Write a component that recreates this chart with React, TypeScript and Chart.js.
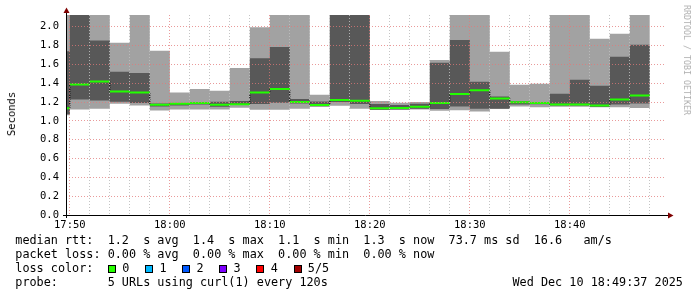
import React, { useEffect, useRef } from "react";
import { Chart, registerables } from "chart.js";

Chart.register(...registerables);

// ---------------- data ----------------
const sampleTimes = [
  "17:49:37", "17:50", "17:52", "17:54", "17:56", "17:58", "18:00", "18:02", "18:04", "18:06",
  "18:08", "18:10", "18:12", "18:14", "18:16", "18:18", "18:20", "18:22", "18:24", "18:26",
  "18:28", "18:30", "18:32", "18:34", "18:36", "18:38", "18:40", "18:42", "18:44", "18:46",
];
const sampleEnd = "18:48";
const axisStart = "17:49:37";
const axisEnd = "18:49:37";
const xTickLabels = ["17:50", "18:00", "18:10", "18:20", "18:30", "18:40"];
const yTickLabels = ["0.0", "0.2", "0.4", "0.6", "0.8", "1.0", "1.2", "1.4", "1.6", "1.8", "2.0"];
const yAxisMax = 2.125;

// outer smoke band (seconds); 2.2 = beyond the top of the graph
const smokeMax = [
  2.2, 2.2, 2.2, 1.83, 2.2, 1.745, 1.301, 1.34, 1.32, 1.561,
  1.995, 2.2, 2.2, 1.278, 2.2, 2.2, 1.211, 1.193, 1.201, 1.648,
  2.2, 2.2, 1.735, 1.383, 1.394, 2.2, 2.2, 1.872, 1.926, 2.2,
];
const smokeMin = [
  1.06, 1.12, 1.128, 1.181, 1.163, 1.11, 1.12, 1.12, 1.12, 1.14,
  1.117, 1.117, 1.128, 1.148, 1.16, 1.128, 1.115, 1.117, 1.12, 1.107,
  1.113, 1.099, 1.128, 1.152, 1.145, 1.149, 1.149, 1.145, 1.145, 1.138,
];
// inner smoke band
const smokeUpper = [
  1.74, 2.2, 1.855, 1.521, 1.51, 1.184, 1.191, 1.199, 1.202, 1.21,
  1.665, 1.786, 1.233, 1.207, 2.2, 2.2, 1.179, 1.168, 1.181, 1.617,
  1.86, 1.415, 1.26, 1.206, 1.199, 1.287, 1.436, 1.372, 1.681, 1.809,
];
const smokeLower = [
  1.07, 1.227, 1.216, 1.202, 1.191, 1.152, 1.163, 1.174, 1.15, 1.172,
  1.18, 1.192, 1.185, 1.16, 1.2, 1.18, 1.117, 1.12, 1.128, 1.127,
  1.152, 1.128, 1.128, 1.174, 1.177, 1.163, 1.163, 1.149, 1.174, 1.184,
];
const medianRtt = [
  1.135, 1.387, 1.418, 1.312, 1.301, 1.172, 1.181, 1.191, 1.172, 1.177,
  1.301, 1.34, 1.201, 1.169, 1.222, 1.214, 1.135, 1.136, 1.151, 1.19,
  1.286, 1.326, 1.239, 1.199, 1.191, 1.174, 1.174, 1.163, 1.227, 1.27,
];

const lossLabels = ["0", "1", "2", "3", "4", "5/5"];
const lossColors = ["#26ff00", "#00b8ff", "#0059ff", "#7e00ff", "#ff0000", "#a10000"];

const legendLine1 = "median rtt:  1.2  s avg  1.4  s max  1.1  s min  1.3  s now  73.7 ms sd  16.6   am/s";
const legendLine2 = "packet loss: 0.00 % avg  0.00 % max  0.00 % min  0.00 % now";
const legendLine3 = "loss color:";
const legendLine4 = "probe:       5 URLs using curl(1) every 120s";
const stampText = "Wed Dec 10 18:49:37 2025";
const yTitle = "Seconds";
const watermark = "RRDTOOL / TOBI OETIKER";

// ---------------- helpers ----------------
const toMin = (s: string) => {
  const p = s.split(":").map(Number);
  return p[0] * 60 + p[1] + (p[2] || 0) / 60;
};
const fmtMin = (v: number) => {
  const h = Math.floor(v / 60 + 1e-9);
  const m = Math.round(v - h * 60);
  return String(h).padStart(2, "0") + ":" + String(m).padStart(2, "0");
};
const starts = sampleTimes.map(toMin);
const ends = starts.slice(1).concat([toMin(sampleEnd)]);
const stepPts = (vals: number[]) =>
  vals.flatMap((v, i) => [{ x: starts[i], y: v }, { x: ends[i], y: v }]);
const segPts = (vals: number[]) =>
  vals.flatMap((v, i) => [
    { x: starts[i], y: v },
    { x: ends[i], y: v },
    { x: ends[i], y: null as any },
  ]);

const LIGHT = "#a2a2a2";
const DARK = "#585858";
const GREEN = "#22ff00";
const MAJOR = "rgba(225,120,120,0.75)";
const MINOR = "rgba(190,190,190,0.9)";
const MONO = "'DejaVu Sans Mono', monospace";

const axesPlugin = {
  id: "rrdAxes",
  afterDraw(chart: any) {
    const { ctx, chartArea } = chart;
    const { left, right, top } = chartArea;
    const y0 = chart.scales.y.getPixelForValue(0);
    ctx.save();
    ctx.strokeStyle = "#000";
    ctx.lineWidth = 1;
    ctx.setLineDash([]);
    ctx.beginPath();
    ctx.moveTo(left - 3, y0 + 0.5);
    ctx.lineTo(right + 2, y0 + 0.5);
    ctx.moveTo(left + 0.5, y0 + 3);
    ctx.lineTo(left + 0.5, top - 3);
    ctx.stroke();
    ctx.fillStyle = "#7f0000";
    ctx.beginPath();
    ctx.moveTo(right + 2, y0 - 2.5);
    ctx.lineTo(right + 7.5, y0 + 0.5);
    ctx.lineTo(right + 2, y0 + 3.5);
    ctx.closePath();
    ctx.fill();
    ctx.beginPath();
    ctx.moveTo(left - 2.5, top - 2);
    ctx.lineTo(left + 0.5, top - 7.5);
    ctx.lineTo(left + 3.5, top - 2);
    ctx.closePath();
    ctx.fill();
    ctx.restore();
  },
};

const bandLine = (data: any[], fillNext: boolean, color: string, order: number) => ({
  data,
  fill: fillNext ? "+1" : false,
  backgroundColor: color,
  borderColor: "transparent",
  borderWidth: 0,
  pointRadius: 0,
  tension: 0,
  order,
});

export default function App() {
  const ref = useRef<HTMLCanvasElement>(null);

  useEffect(() => {
    const chart = new Chart(ref.current as HTMLCanvasElement, {
      type: "line",
      data: {
        datasets: [
          bandLine(stepPts(smokeMax), true, LIGHT, 5),
          bandLine(stepPts(smokeMin), false, LIGHT, 5),
          bandLine(stepPts(smokeUpper), true, DARK, 4),
          bandLine(stepPts(smokeLower), false, DARK, 4),
          {
            data: stepPts(medianRtt),
            fill: false,
            borderColor: "#000",
            borderWidth: 1,
            borderDash: [1, 1],
            pointRadius: 0,
            order: 2,
          },
          {
            data: segPts(medianRtt),
            fill: false,
            borderColor: GREEN,
            borderWidth: 2,
            borderCapStyle: "butt",
            spanGaps: false,
            pointRadius: 0,
            order: 1,
          },
        ] as any,
      },
      options: {
        responsive: false,
        animation: false,
        events: [],
        layout: { padding: { top: 15, right: 31, left: 0, bottom: 0 } },
        plugins: {
          legend: { display: false },
          tooltip: { enabled: false },
          filler: { propagate: false },
        },
        scales: {
          x: {
            type: "linear",
            min: toMin(axisStart),
            max: toMin(axisEnd),
            afterFit: (s: any) => {
              s.height = 82;
            },
            afterBuildTicks: (s: any) => {
              const t = [];
              for (let v = Math.ceil(s.min / 2) * 2; v <= s.max + 1e-9; v += 2) t.push({ value: v });
              s.ticks = t;
            },
            grid: {
              z: 1,
              drawTicks: false,
              lineWidth: 1,
              color: (c: any) => (xTickLabels.includes(fmtMin(c.tick.value)) ? MAJOR : MINOR),
            },
            border: { display: false, dash: [1, 2] },
            ticks: {
              autoSkip: false,
              maxRotation: 0,
              padding: 4,
              color: "#000",
              font: { family: MONO, size: 10.5 },
              callback: (v: any) => {
                const s = fmtMin(Number(v));
                return xTickLabels.includes(s) ? s : "";
              },
            },
          },
          y: {
            type: "linear",
            min: 0,
            max: yAxisMax,
            afterFit: (s: any) => {
              s.width = 66;
            },
            afterBuildTicks: (s: any) => {
              const t = [];
              for (let i = 0; i / 10 <= s.max + 1e-9; i++) t.push({ value: i / 10 });
              s.ticks = t;
            },
            grid: {
              z: 1,
              drawTicks: false,
              lineWidth: 1,
              color: (c: any) => (yTickLabels.includes(Number(c.tick.value).toFixed(1)) ? MAJOR : MINOR),
            },
            border: { display: false, dash: [1, 2] },
            ticks: {
              padding: 7,
              color: "#000",
              font: { family: MONO, size: 10.5 },
              callback: (v: any) => {
                const s = Number(v).toFixed(1);
                return yTickLabels.includes(s) ? s : "";
              },
            },
          },
        },
      } as any,
      plugins: [axesPlugin],
    });
    return () => chart.destroy();
  }, []);

  const textBase: React.CSSProperties = {
    position: "absolute",
    fontFamily: MONO,
    fontSize: "11.8px",
    lineHeight: "14px",
    whiteSpace: "pre",
    color: "#000",
  };

  return (
    <div
      style={{
        position: "absolute",
        left: 0,
        top: 0,
        width: 697,
        height: 297,
        background: "#fff",
        overflow: "hidden",
      }}
    >
      <canvas
        ref={ref}
        width={697}
        height={297}
        style={{ position: "absolute", left: 0, top: 0, width: 697, height: 297 }}
      />
      <div
        style={{
          position: "absolute",
          left: 11,
          top: 114,
          transform: "translate(-50%, -50%) rotate(-90deg)",
          fontFamily: MONO,
          fontSize: "10.5px",
          whiteSpace: "pre",
          color: "#000",
        }}
      >
        {yTitle}
      </div>
      <div
        style={{
          position: "absolute",
          left: 687,
          top: 60,
          transform: "translate(-50%, -50%) rotate(90deg)",
          fontFamily: MONO,
          fontSize: "8.3px",
          whiteSpace: "pre",
          color: "#b0b0b0",
        }}
      >
        {watermark}
      </div>
      <div style={{ ...textBase, left: 15.3, top: 233 }}>
        {legendLine1 + "\n" + legendLine2 + "\n" + legendLine3 + "\n" + legendLine4}
      </div>
      {lossLabels.map((lab, i) => (
        <React.Fragment key={lab}>
          <div
            style={{
              position: "absolute",
              left: 108 + i * 37.1,
              top: 265,
              width: 8,
              height: 8,
              boxSizing: "border-box",
              border: "1px solid #000",
              background: lossColors[i],
            }}
          />
          <div style={{ ...textBase, left: 122.3 + i * 37.1, top: 261 }}>{lab}</div>
        </React.Fragment>
      ))}
      <div style={{ ...textBase, left: 512.5, top: 275 }}>{stampText}</div>
    </div>
  );
}
